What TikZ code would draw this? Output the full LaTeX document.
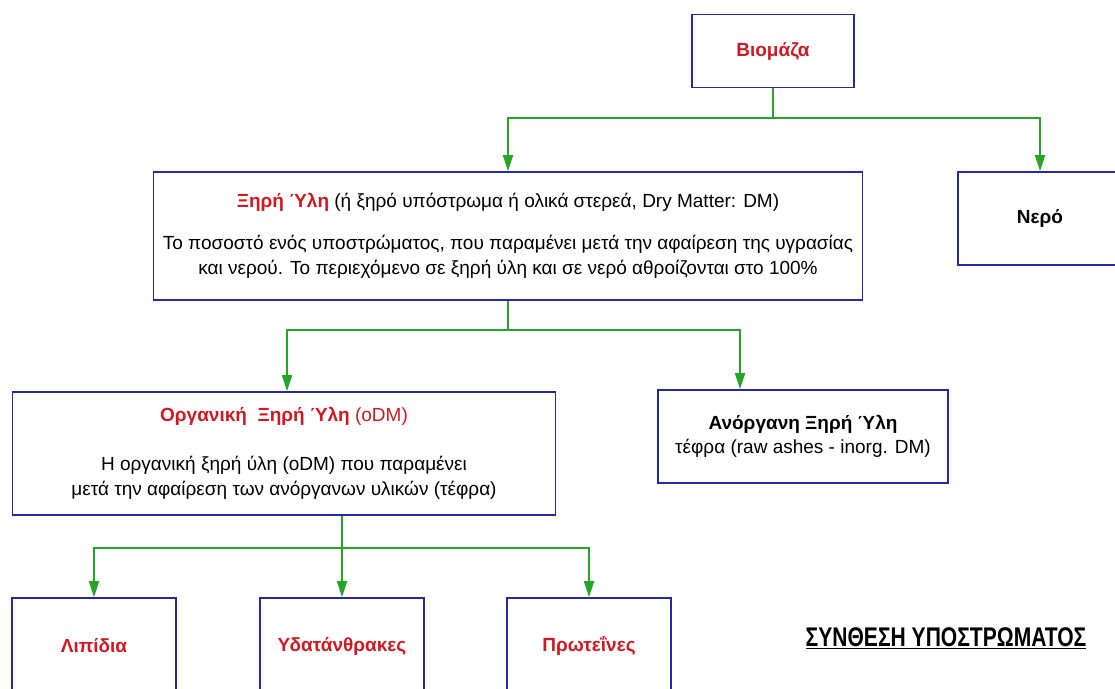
\documentclass[tikz,border=0pt]{standalone}
\usepackage{fontspec}
\setmainfont{Liberation Sans}
\newfontfamily\narrowfont[FakeStretch=0.78]{Liberation Sans}
\usepackage{tikz}
\usepackage{xcolor}
\usetikzlibrary{positioning,arrows.meta,calc}
\definecolor{boxcolor}{RGB}{40, 40, 165}
\definecolor{flowcolor}{RGB}{40, 165, 40}
\definecolor{namecolor}{RGB}{210, 25, 35}

\begin{document}
\begin{tikzpicture}[x=1pt,y=1pt,
    box/.style={rectangle, draw=boxcolor, line width=1.6pt, fill=white, align=center, inner sep=0pt, font=\fontsize{19}{25}\selectfont},
    flow/.style={draw=flowcolor, line width=1.8pt},
    redlabel/.style={font=\fontsize{19}{25}\selectfont\bfseries, text=namecolor}
]
\useasboundingbox (0,0) rectangle (1115,688);
\clip (0,0) rectangle (1115,688);

\node[box, redlabel, minimum width=162, minimum height=73] (bio) at (773,637) {Βιομάζα};
\node[box, minimum width=709, minimum height=128] (dm) at (508,452) {\textcolor{namecolor}{\bfseries Ξηρή Ύλη} (ή ξηρό υπόστρωμα ή ολικά στερεά, Dry Matter: DM)\\[17pt]Το ποσοστό ενός υποστρώματος, που παραμένει μετά την αφαίρεση της υγρασίας\\και νερού. Το περιεχόμενο σε ξηρή ύλη και σε νερό αθροίζονται στο 100\%};
\node[box, font=\fontsize{19}{25}\selectfont\bfseries, minimum width=164, minimum height=93] (water) at (1040,469.5) {Νερό};
\node[box, minimum width=543, minimum height=123] (odm) at (284,234.5) {\textcolor{namecolor}{\bfseries Οργανική\ \ Ξηρή Ύλη} \textcolor{namecolor}{(oDM)}\\[24pt]Η οργανική ξηρή ύλη (oDM) που παραμένει\\μετά την αφαίρεση των ανόργανων υλικών (τέφρα)};
\node[box, minimum width=290, minimum height=93] (ash) at (803,251.5) {{\bfseries Ανόργανη Ξηρή Ύλη}\\[-1pt]τέφρα (raw ashes - inorg. DM)};
\node[box, redlabel, minimum width=164, minimum height=96] (lip) at (94,42) {Λιπίδια};
\node[box, redlabel, minimum width=164, minimum height=96] (carb) at (342,42) {Υδατάνθρακες};
\node[box, redlabel, minimum width=164, minimum height=96] (prot) at (589,42) {Πρωτεΐνες};
\node[font=\fontsize{27}{30}\selectfont\narrowfont\bfseries] (title) at (946,50) {\underline{ΣΥΝΘΕΣΗ ΥΠΟΣΤΡΩΜΑΤΟΣ}};

\coordinate (j1) at (773,570);
\coordinate (j2) at (508,358);
\coordinate (j3) at (342,140);
\draw[flow] (bio.south) -- (j1);
\draw[flow,-{Triangle[width=10pt,length=16pt]}] (j1) -| (dm.north);
\draw[flow,-{Triangle[width=10pt,length=16pt]}] (j1) -| (water.north);
\draw[flow] (dm.south) -- (j2);
\draw[flow,-{Triangle[width=10pt,length=16pt]}] (j2) -| ([xshift=3pt]odm.north);
\draw[flow,-{Triangle[width=10pt,length=16pt]}] (j2) -| ([xshift=-63pt]ash.north);
\draw[flow] ([xshift=58pt]odm.south) -- (j3);
\draw[flow,-{Triangle[width=10pt,length=16pt]}] (j3) -| (lip.north);
\draw[flow,-{Triangle[width=10pt,length=16pt]}] (j3) -| (carb.north);
\draw[flow,-{Triangle[width=10pt,length=16pt]}] (j3) -| (prot.north);
\end{tikzpicture}
\end{document}
